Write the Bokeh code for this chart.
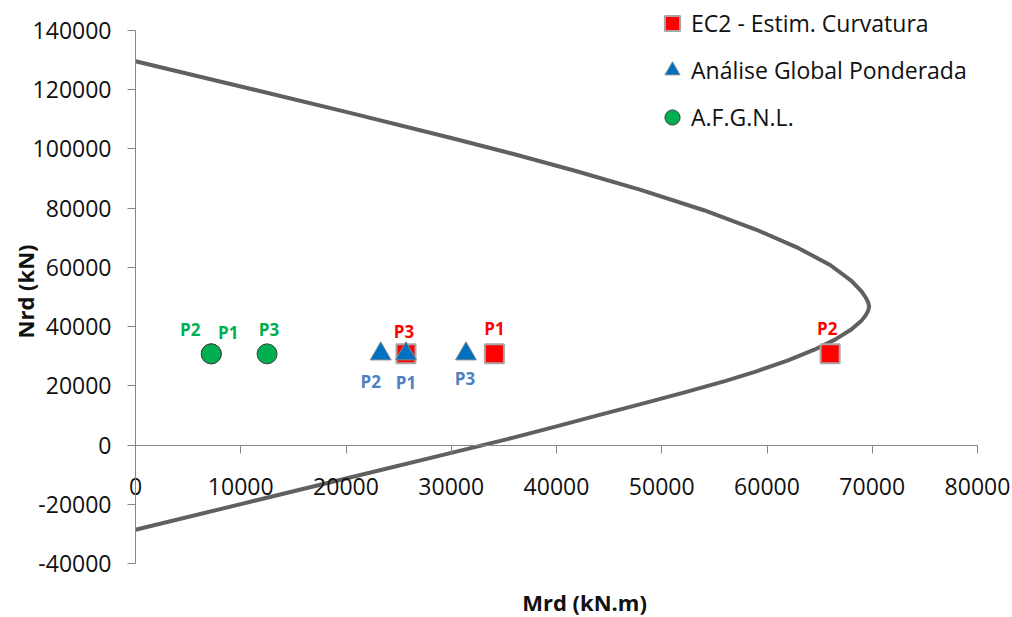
from math import pi
from bokeh.plotting import figure
from bokeh.models import (LinearAxis, FixedTicker, NumeralTickFormatter, Label, Legend,
                          LegendItem, ColumnDataSource, Range1d)
from bokeh.core.properties import value
from bokeh.embed import file_html
from bokeh.resources import INLINE

# ---------------- data ----------------
# interaction curve (Mrd, Nrd): upper branch, round the tip, lower branch
curve_mrd = [0, 10000, 20000, 30000, 36000, 42000, 48000, 54000, 59000, 63000, 66000,
             68000, 69000, 69400, 69620, 69700, 69620, 69350, 69000, 68000, 66500,
             64500, 62000, 59000, 56000, 52000, 48000, 44000, 40000, 36000, 30000,
             20000, 10000, 0]
curve_nrd = [129600, 121100, 112500, 103700, 98200, 92400, 86200, 79300, 72700, 66500,
             60800, 55500, 51800, 49700, 48100, 46800, 45400, 43700, 42100, 39000,
             35700, 32200, 28600, 24900, 21600, 17600, 13800, 10100, 6300, 2600, -2650,
             -11300, -19950, -28600]

ec2_labels = ["P1", "P2", "P3"]
ec2_mrd = [34100, 66000, 25700]
ec2_nrd = [30800, 30800, 30800]

agp_labels = ["P1", "P2", "P3"]
agp_mrd = [25700, 23300, 31400]
agp_nrd = [30800, 30800, 30800]

afg_labels = ["P1", "P2", "P3"]
afg_mrd = [7200, 7200, 12500]
afg_nrd = [30800, 30800, 30800]

series_names = ["EC2 - Estim. Curvatura", "Análise Global Ponderada", "A.F.G.N.L."]

x_ticks = [0, 10000, 20000, 30000, 40000, 50000, 60000, 70000, 80000]
y_ticks = [-40000, -20000, 0, 20000, 40000, 60000, 80000, 100000, 120000, 140000]

x_title = "Mrd (kN.m)"
y_title = "Nrd (kN)"

# ---------------- layout / style ----------------
W, H = 1012, 617
# pixel box of the axes in the page
AX_L, AX_R, AX_T, AX_B = 135, 977, 30, 563
X0, X1 = x_ticks[0], x_ticks[-1]
Y0, Y1 = y_ticks[0], y_ticks[-1]
kx = (X1 - X0) / (AX_R - AX_L)
ky = (Y1 - Y0) / (AX_B - AX_T)
xr = Range1d(X0 - AX_L * kx, X1 + (W - AX_R) * kx)
yr = Range1d(Y0 - (H - AX_B) * ky, Y1 + AX_T * ky)

# label offsets in pixels
ec2_dx, ec2_dy = [0, -3, -2], [-25, -25, -22]
agp_dx, agp_dy = [0, -10, -1], [29, 28, 25]
afg_dx, afg_dy = [17, -21, 2], [-21, -24, -24]

FONT = "Open Sans"
AXIS_COL = "#868686"
TXT = "#111111"

p = figure(width=W, height=H, output_backend="svg", toolbar_location=None,
           title=None, x_range=xr, y_range=yr,
           x_axis_location=None, y_axis_location=None,
           min_border=0, background_fill_color="white",
           border_fill_color="white", outline_line_color=None)
p.grid.visible = False

fmt = NumeralTickFormatter(format="0")

xax = LinearAxis(ticker=FixedTicker(ticks=x_ticks), formatter=fmt, fixed_location=0,
                 bounds=(X0, X1))
yax = LinearAxis(ticker=FixedTicker(ticks=y_ticks), formatter=fmt, fixed_location=0,
                 bounds=(Y0, Y1))
for ax in (xax, yax):
    ax.axis_line_color = AXIS_COL
    ax.major_tick_line_color = AXIS_COL
    ax.minor_tick_line_color = None
    ax.major_tick_in = 0
    ax.major_tick_out = 8
    ax.major_label_text_font = FONT
    ax.major_label_text_font_size = "23px"
    ax.major_label_text_color = TXT
xax.major_label_standoff = 25
yax.major_label_standoff = 16
p.add_layout(xax, "below")
p.add_layout(yax, "left")

# curve
p.line(curve_mrd, curve_nrd, line_color="#606060", line_width=4, line_join="round")

# series
src_ec2 = ColumnDataSource(dict(x=ec2_mrd, y=ec2_nrd, t=ec2_labels, dx=ec2_dx, dy=ec2_dy))
src_agp = ColumnDataSource(dict(x=agp_mrd, y=agp_nrd, t=agp_labels, dx=agp_dx, dy=agp_dy))
src_afg = ColumnDataSource(dict(x=afg_mrd, y=afg_nrd, t=afg_labels, dx=afg_dx, dy=afg_dy))

r_ec2 = p.scatter("x", "y", source=src_ec2, marker="square", size=19,
                  fill_color="#FF0000", line_color="#A6A6A6", line_width=2)
r_agp = p.scatter("x", "y", source=src_agp, marker="triangle", size=21,
                  fill_color="#0070C0", line_color="#8C8C8C", line_width=1)
r_afg = p.scatter("x", "y", source=src_afg, marker="circle", size=20,
                  fill_color="#00B050", line_color="#404040", line_width=1)

for src, col in ((src_ec2, "#FF0000"), (src_agp, "#4F81BD"), (src_afg, "#00B050")):
    p.text("x", "y", text="t", source=src, x_offset="dx", y_offset="dy",
           text_color=col, text_font=value(FONT), text_font_size="17px",
           text_font_style="bold", text_align="center", text_baseline="middle")

GLYPH = 38
SP = 9
leg_h = 3 * GLYPH + 2 * SP
leg_top = 23 - GLYPH / 2
legend = Legend(items=[LegendItem(label=series_names[0], renderers=[r_ec2]),
                       LegendItem(label=series_names[1], renderers=[r_agp]),
                       LegendItem(label=series_names[2], renderers=[r_afg])],
                location=(672 - GLYPH / 2, H - leg_top - leg_h), orientation="vertical",
                glyph_width=GLYPH, glyph_height=GLYPH, spacing=SP, padding=0, margin=0,
                label_standoff=-13, label_text_font=FONT, label_text_font_size="23px",
                label_text_color=TXT, border_line_color=None,
                background_fill_alpha=0)
p.add_layout(legend)

p.add_layout(Label(x=584, y=H - 601, x_units="screen", y_units="screen", text=x_title,
                   text_align="center", text_baseline="middle", text_font=FONT,
                   text_font_size="22px", text_font_style="bold", text_color=TXT))
p.add_layout(Label(x=24, y=H - 291, x_units="screen", y_units="screen", text=y_title,
                   angle=pi / 2, text_align="center", text_baseline="middle",
                   text_font=FONT, text_font_size="22px", text_font_style="bold",
                   text_color=TXT))

open("out.html", "w").write(file_html(p, INLINE))
